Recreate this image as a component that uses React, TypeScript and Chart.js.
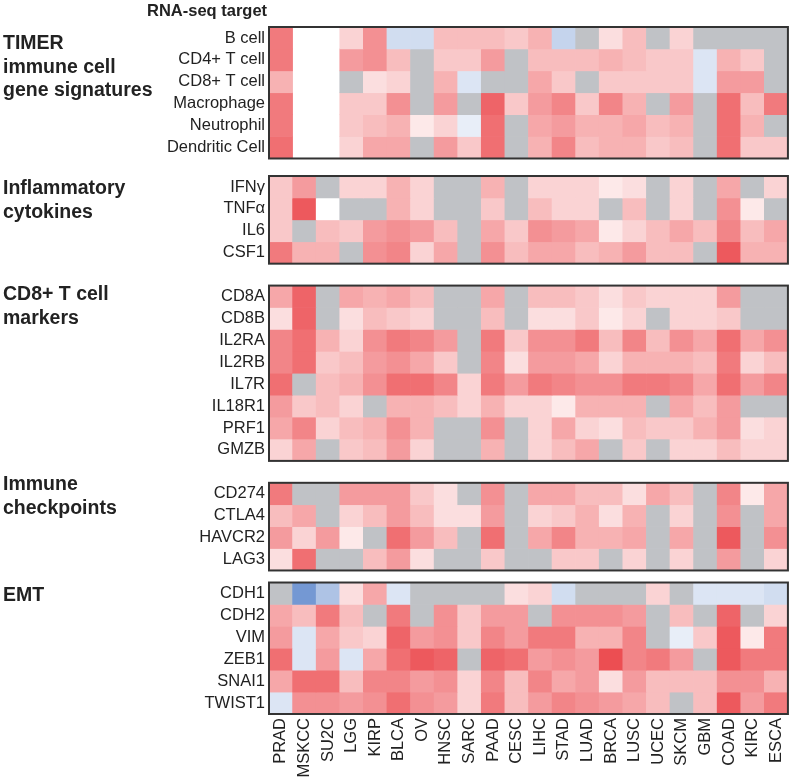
import React, { useEffect, useRef } from "react";
import { Chart, registerables } from "chart.js";

Chart.register(...registerables);

const N = "ns"; // not significant (gray)
const B = null; // no data (blank)

const CANCERS = ["PRAD", "MSKCC", "SU2C", "LGG", "KIRP", "BLCA", "OV", "HNSC", "SARC", "PAAD", "CESC", "LIHC", "STAD", "LUAD", "BRCA", "LUSC", "UCEC", "SKCM", "GBM", "COAD", "KIRC", "ESCA"];

const TIMER_ROWS = ["B cell", "CD4+ T cell", "CD8+ T cell", "Macrophage", "Neutrophil", "Dendritic Cell"];
const TIMER_VALUES = [
  [6, B, B, 2, 5, -2, -2, 3, 3, 3, 2.5, 3.5, -2.5, N, 1.5, 3, N, 2, N, N, N, N],
  [6, B, B, 4.5, 5, 3, N, 2.5, 2.5, 4.5, N, 3, 3, 3, 3.5, 3, 2.5, 2.5, -1.5, 3.5, 2.5, N],
  [3.5, B, B, N, 1.5, 2, N, 3.5, -1.5, N, N, 4, 2.5, N, 2.5, 2.5, 2.5, 2.5, -1.5, 4.5, 4.5, N],
  [6, B, B, 2.5, 2.5, 5, N, 4.5, N, 7, 2.5, 4.5, 5.5, 2.5, 5.5, 3.5, N, 4.5, N, 6.5, 3, 6],
  [6, B, B, 2.5, 3, 3.5, 1, 2, -1, 6.5, N, 4, 4.5, 3.5, 3.5, 4, 3, 3.5, N, 6.5, 3.5, N],
  [6.5, B, B, 2, 4, 4, N, 4.5, 2.5, 6.5, N, 3.5, 5.5, 3, 3.5, 3.5, 2.5, 3, N, 6.5, 2.5, 2.5],
];

const CYTO_ROWS = ["IFNγ", "TNFα", "IL6", "CSF1"];
const CYTO_VALUES = [
  [2.5, 4.5, N, 2, 2, 3.5, 2, N, N, 3.5, N, 2, 2, 2, 1, 1.5, N, 2, N, 4, N, 2],
  [2.5, 7.5, 0, N, N, 3.5, 2, N, N, 2.5, N, 3, 2, 2, N, 3, N, 2, N, 5, 1, N],
  [2.5, N, 3, 2.5, 4.5, 5, 4.5, 3, N, 4, 2.5, 5, 4.5, 4, 1, 2, 3, 4, 3, 5.5, 3, 4],
  [6, 3.5, 3.5, N, 5, 5.5, 2, 4, N, 5, 3, 4, 4, 3, 3.5, 4.5, 3, 3, N, 7.5, 3.5, 3.5],
];

const CD8_ROWS = ["CD8A", "CD8B", "IL2RA", "IL2RB", "IL7R", "IL18R1", "PRF1", "GMZB"];
const CD8_VALUES = [
  [4, 7, N, 4, 3.5, 4, 3, N, N, 4, N, 3, 3, 2.5, 1.5, 2.5, 2, 2, 2, 4.5, N, N],
  [1.5, 7, N, 1.5, 3, 2.5, 2, N, N, 3, N, 1.5, 1.5, 2.5, 1, 2, N, 2, 2, 2.5, N, N],
  [5.5, 6.5, 3.5, 2, 5, 6, 5.5, 4.5, N, 6, 2.5, 5, 5, 6, 3, 5.5, 3, 5, 4, 6.5, 4, 5],
  [5.5, 6.5, 2.5, 3, 4.5, 5, 4, 2.5, N, 5.5, 1.5, 4.5, 4.5, 4, 2, 3.5, 3.5, 3.5, 3, 6, 2, 3],
  [6.5, N, 3, 3.5, 5, 6.5, 6.5, 5.5, 2, 6, 4.5, 6, 5.5, 5, 5, 6, 6, 5.5, 4, 6.5, 4.5, 5.5],
  [4.5, 2.5, 3, 2, N, 3.5, 3.5, 3, 2, 3.5, 2, 2, 1, 3.5, 3.5, 3.5, N, 4, 3, 4.5, N, N],
  [4, 5.5, 2, 3, 3.5, 5, 3.5, N, N, 5, N, 2, 4, 2, 1.5, 3, 2.5, 2.5, 3.5, 4.5, 1.5, 2],
  [2, 4, N, 2.5, 3, 4.5, 2, N, N, 3.5, N, 2, 3, 4, N, 2.5, N, 2, 2, 3, 2, 2],
];

const CHECK_ROWS = ["CD274", "CTLA4", "HAVCR2", "LAG3"];
const CHECK_VALUES = [
  [6, N, N, 4.5, 4.5, 4.5, 2.5, 1.5, N, 5, N, 4, 4, 3, 3, 1.5, 4, 3, N, 5.5, 1, 4],
  [3, 4, N, 2, 3, 4.5, 3, 1.5, 1.5, 4.5, N, 2, 2.5, 3.5, 1.5, 3.5, N, 2, N, 5, N, 4],
  [4.5, 2, 4.5, 1, N, 6.5, 4.5, 3, N, 6.5, N, 4, 5.5, 3.5, 3.5, 4, N, 4, N, 7.5, N, 5],
  [1.5, 6.5, N, N, 3, 4.5, 1.5, N, N, 2.5, N, N, 2.5, 2.5, N, 2, N, 2, N, 4.5, N, 2],
];

const EMT_ROWS = ["CDH1", "CDH2", "VIM", "ZEB1", "SNAI1", "TWIST1"];
const EMT_VALUES = [
  [N, -6, -3.5, 1.5, 4, -1.5, N, N, N, N, 1.5, 2, -2, N, N, N, 2, N, -1.5, -1.5, -1.5, -2],
  [4, 3, 6, 3, N, 6, N, 5, 2.5, 4.5, 4.5, N, 5, 5, 5, 4.5, N, 3, N, 7, N, 2],
  [4.5, -1.5, 4, 2.5, 2, 7, 4.5, 5, 2.5, 5.5, 4.5, 6, 6, 3.5, 3.5, 5.5, N, -1, 2.5, 7.5, 1, 6],
  [6.5, -1.5, 4.5, -1.5, 4, 6.5, 7.5, 7, N, 7, 6.5, 4.5, 5, 4.5, 8, 5.5, 6, 4.5, N, 7.5, 6, 6],
  [4, 6.5, 6.5, 3, 5.5, 5.5, 4.5, 5, 2, 5.5, 3, 5.5, 4, 4.5, 1.5, 4.5, 3, 3, 3, 5, 5, 3.5],
  [-1.5, 5, 5, 4.5, 5, 6.5, 5, 4.5, 2, 6, 3, 4.5, 5.5, 5, 4.5, 4, 3, N, 3, 7.5, 4.5, 6],
];

const PANEL_TITLES = [
  ["TIMER", "immune cell", "gene signatures"],
  ["Inflammatory", "cytokines"],
  ["CD8+ T cell", "markers"],
  ["Immune", "checkpoints"],
  ["EMT"],
];

const PANELS = [
  { rows: TIMER_ROWS, values: TIMER_VALUES },
  { rows: CYTO_ROWS, values: CYTO_VALUES },
  { rows: CD8_ROWS, values: CD8_VALUES },
  { rows: CHECK_ROWS, values: CHECK_VALUES },
  { rows: EMT_ROWS, values: EMT_VALUES },
];

// layout (in row units)
const GAPS = [0, 0.8, 1.0, 1.0, 0.55];
const TITLE_TOPS = [31, 176, 282, 472, 583];

const FONT = "'Liberation Sans', Arial, Helvetica, sans-serif";
const GRAY = "rgb(192,194,198)";
const VMAX = 8;

function cellColor(v: number | string): string {
  if (v === N) return GRAY;
  const val = v as number;
  const t = Math.min(1, Math.abs(val) / VMAX);
  const end = val >= 0 ? [236, 78, 82] : [70, 118, 196];
  return `rgb(${Math.round(255 + t * (end[0] - 255))},${Math.round(255 + t * (end[1] - 255))},${Math.round(255 + t * (end[2] - 255))})`;
}

function buildLayout() {
  const rowNames: string[] = [];
  const rowCenters: number[] = [];
  const panelRanges: [number, number][] = [];
  const datasets: any[] = [];
  let y = 0;
  PANELS.forEach((p, pi) => {
    y += GAPS[pi];
    const start = y;
    p.rows.forEach((name, ri) => {
      const y0 = y;
      const y1 = y + 1;
      rowNames.push(name);
      rowCenters.push(y + 0.5);
      const vals = p.values[ri];
      datasets.push({
        label: name,
        data: CANCERS.map((_, j) => (vals[j] === null ? null : [y0, y1])),
        backgroundColor: CANCERS.map((_, j) => (vals[j] === null ? "rgba(0,0,0,0)" : cellColor(vals[j] as any))),
        borderWidth: 0,
        barPercentage: 1,
        categoryPercentage: 1,
        grouped: false,
      });
      y += 1;
    });
    panelRanges.push([start, y]);
  });
  return { rowNames, rowCenters, panelRanges, datasets, total: y };
}

export default function App() {
  const ref = useRef<HTMLCanvasElement | null>(null);

  useEffect(() => {
    if (!ref.current) return;
    const L = buildLayout();
    const borderPlugin = {
      id: "panelBorder",
      afterDatasetsDraw(chart: any) {
        const { ctx, chartArea, scales } = chart;
        const ys = scales.y;
        ctx.save();
        ctx.strokeStyle = "#333333";
        ctx.lineWidth = 2;
        L.panelRanges.forEach(([a, b]) => {
          const top = ys.getPixelForValue(a);
          const bot = ys.getPixelForValue(b);
          ctx.strokeRect(chartArea.left, top, chartArea.right - chartArea.left, bot - top);
        });
        ctx.restore();
      },
    };
    const chart = new Chart(ref.current, {
      type: "bar",
      data: { labels: CANCERS, datasets: L.datasets },
      options: {
        animation: false,
        responsive: false,
        devicePixelRatio: 1,
        layout: { padding: { top: 27, right: 3, left: 0, bottom: 0 } },
        plugins: { legend: { display: false }, tooltip: { enabled: false } },
        scales: {
          x: {
            type: "category",
            grid: { display: false, drawTicks: false },
            border: { display: false },
            ticks: {
              minRotation: 90,
              maxRotation: 90,
              autoSkip: false,
              padding: 4,
              color: "#222",
              font: { family: FONT, size: 16.5 },
            },
            afterFit(scale: any) {
              scale.height = 63;
            },
          },
          y: {
            type: "linear",
            reverse: true,
            min: 0,
            max: L.total,
            grid: { display: false, drawTicks: false },
            border: { display: false },
            afterBuildTicks(scale: any) {
              scale.ticks = L.rowCenters.map((v) => ({ value: v }));
            },
            ticks: {
              autoSkip: false,
              padding: 4,
              color: "#222",
              font: { family: FONT, size: 16.5 },
              callback: (_v: any, i: number) => L.rowNames[i],
            },
            afterFit(scale: any) {
              scale.width = 269;
            },
          },
        },
      } as any,
      plugins: [borderPlugin],
    });
    return () => chart.destroy();
  }, []);

  return (
    <div style={{ position: "absolute", left: 0, top: 0, width: 800, height: 777, background: "#fff", overflow: "hidden", fontFamily: FONT }}>
      <canvas ref={ref} width={800} height={777} style={{ position: "absolute", left: 0, top: 0, width: 800, height: 777 }} />
      <div style={{ position: "absolute", left: 147, top: 0, fontWeight: "bold", fontSize: 16.5, lineHeight: "20px", color: "#222" }}>RNA-seq target</div>
      {PANEL_TITLES.map((lines, i) => (
        <div key={i} style={{ position: "absolute", left: 3, top: TITLE_TOPS[i], fontWeight: "bold", fontSize: 19.5, lineHeight: "23.5px", color: "#222", whiteSpace: "nowrap" }}>
          {lines.map((l, k) => (
            <div key={k}>{l}</div>
          ))}
        </div>
      ))}
    </div>
  );
}
